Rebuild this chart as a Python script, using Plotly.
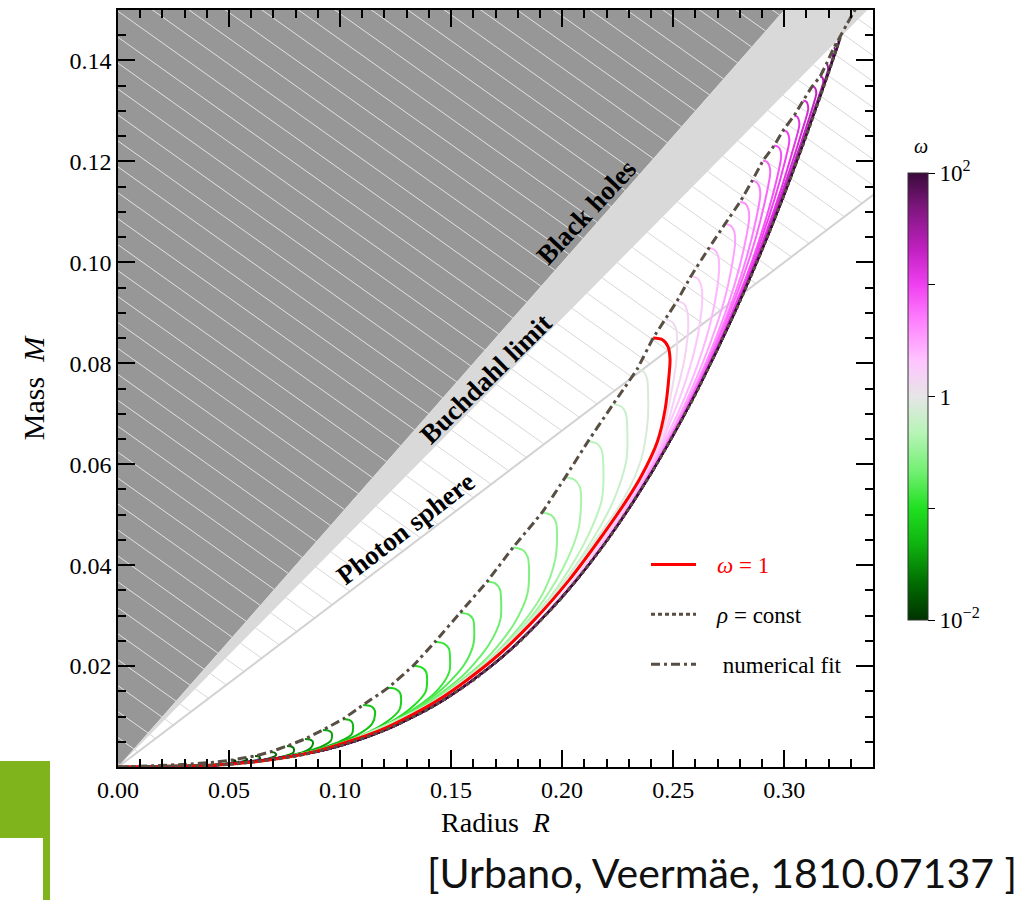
import numpy as np
import plotly.graph_objects as go
import plotly.colors as pc

# ---------------- data ----------------
LOG_OMEGA = [-2.0, -1.9, -1.8, -1.7, -1.6, -1.5, -1.4, -1.3, -1.2, -1.1,
             -1.0, -0.9, -0.8, -0.7, -0.6, -0.5, -0.4, -0.3, -0.2, -0.1,
             0.0, 0.1, 0.2, 0.3, 0.4, 0.5, 0.6, 0.7, 0.8, 0.9,
             1.0, 1.1, 1.2, 1.3, 1.4, 1.5, 1.6, 1.7, 1.8, 1.9, 2.0]

W00_R = [0.0514, 0.0523, 0.0528, 0.0529, 0.0505, 0.0437, 0.0257]
W00_M = [0.00139, 0.00135, 0.00125, 0.00109, 0.00079, 0.00044, 0.00014]
W01_R = [0.0563, 0.0574, 0.0580, 0.0581, 0.0560, 0.0513, 0.0425, 0.0234]
W01_M = [0.00179, 0.00175, 0.00161, 0.00139, 0.00109, 0.00079, 0.00040, 0.00010]
W02_R = [0.0617, 0.0631, 0.0638, 0.0640, 0.0617, 0.0552, 0.0457, 0.0279]
W02_M = [0.00218, 0.00213, 0.00197, 0.00169, 0.00129, 0.00089, 0.00050, 0.00020]
W03_R = [0.0685, 0.0701, 0.0709, 0.0712, 0.0693, 0.0649, 0.0561, 0.0436]
W03_M = [0.00298, 0.00290, 0.00270, 0.00238, 0.00189, 0.00139, 0.00089, 0.00040]
W04_R = [0.0761, 0.0780, 0.0790, 0.0793, 0.0788, 0.0750, 0.0688, 0.0595, 0.0440]
W04_M = [0.00417, 0.00407, 0.00381, 0.00338, 0.00278, 0.00218, 0.00159, 0.00099, 0.00040]
W05_R = [0.0842, 0.0864, 0.0876, 0.0878, 0.0868, 0.0836, 0.0766, 0.0671, 0.0493]
W05_M = [0.00556, 0.00544, 0.00510, 0.00457, 0.00377, 0.00298, 0.00218, 0.00139, 0.00060]
W06_R = [0.0923, 0.0948, 0.0961, 0.0964, 0.0958, 0.0922, 0.0862, 0.0772, 0.0636, 0.0441]
W06_M = [0.00735, 0.00721, 0.00681, 0.00616, 0.00516, 0.00417, 0.00318, 0.00218, 0.00119, 0.00040]
W07_R = [0.1014, 0.1041, 0.1055, 0.1059, 0.1053, 0.1004, 0.0919, 0.0803, 0.0640, 0.0444]
W07_M = [0.00953, 0.00933, 0.00882, 0.00794, 0.00655, 0.00516, 0.00377, 0.00238, 0.00119, 0.00040]
W08_R = [0.1104, 0.1136, 0.1153, 0.1158, 0.1144, 0.1086, 0.0980, 0.0844, 0.0675, 0.0495]
W08_M = [0.01231, 0.01210, 0.01152, 0.01053, 0.00854, 0.00655, 0.00457, 0.00278, 0.00139, 0.00060]
W09_R = [0.1216, 0.1251, 0.1270, 0.1275, 0.1267, 0.1210, 0.1103, 0.0950, 0.0759, 0.0551]
W09_M = [0.01569, 0.01543, 0.01470, 0.01351, 0.01132, 0.00894, 0.00636, 0.00397, 0.00199, 0.00079]
W10_R = [0.1329, 0.1367, 0.1387, 0.1392, 0.1385, 0.1326, 0.1230, 0.1086, 0.0905, 0.0679]
W10_M = [0.02006, 0.01974, 0.01889, 0.01748, 0.01490, 0.01192, 0.00894, 0.00596, 0.00338, 0.00139]
W11_R = [0.1428, 0.1468, 0.1490, 0.1495, 0.1492, 0.1440, 0.1327, 0.1164, 0.0984, 0.0759, 0.0550]
W11_M = [0.02483, 0.02447, 0.02348, 0.02185, 0.01887, 0.01529, 0.01132, 0.00735, 0.00437, 0.00199, 0.00079]
W12_R = [0.1541, 0.1578, 0.1599, 0.1604, 0.1600, 0.1559, 0.1456, 0.1295, 0.1110, 0.0900, 0.0674]
W12_M = [0.03059, 0.03023, 0.02924, 0.02761, 0.02423, 0.02026, 0.01529, 0.01033, 0.00636, 0.00338, 0.00139]
W13_R = [0.1662, 0.1700, 0.1720, 0.1725, 0.1722, 0.1670, 0.1557, 0.1380, 0.1169, 0.0905, 0.0678]
W13_M = [0.03674, 0.03635, 0.03521, 0.03337, 0.02920, 0.02423, 0.01827, 0.01231, 0.00735, 0.00338, 0.00139]
W14_R = [0.1779, 0.1823, 0.1845, 0.1851, 0.1843, 0.1781, 0.1654, 0.1429, 0.1177, 0.0910, 0.0682]
W14_M = [0.04350, 0.04300, 0.04161, 0.03932, 0.03416, 0.02820, 0.02125, 0.01331, 0.00735, 0.00338, 0.00139]
W15_R = [0.1910, 0.1950, 0.1972, 0.1977, 0.1969, 0.1922, 0.1835, 0.1671, 0.1436, 0.1181, 0.0913]
W15_M = [0.05045, 0.04995, 0.04856, 0.04628, 0.04111, 0.03515, 0.02920, 0.02125, 0.01331, 0.00735, 0.00338]
W16_R = [0.2014, 0.2057, 0.2080, 0.2086, 0.2073, 0.2023, 0.1919, 0.1770, 0.1570, 0.1280, 0.0994]
W16_M = [0.05740, 0.05688, 0.05543, 0.05303, 0.04707, 0.04111, 0.03317, 0.02522, 0.01728, 0.00933, 0.00437]
W17_R = [0.2117, 0.2158, 0.2179, 0.2185, 0.2179, 0.2130, 0.2059, 0.1937, 0.1723, 0.1434, 0.1054]
W17_M = [0.06455, 0.06405, 0.06266, 0.06038, 0.05303, 0.04707, 0.04111, 0.03317, 0.02324, 0.01331, 0.00536]
W18_R = [0.2230, 0.2268, 0.2288, 0.2293, 0.2290, 0.2234, 0.2109, 0.1946, 0.1725, 0.1435, 0.1178]
W18_M = [0.07190, 0.07138, 0.06993, 0.06753, 0.06097, 0.05303, 0.04310, 0.03317, 0.02324, 0.01331, 0.00735]
W19_R = [0.2338, 0.2368, 0.2383, 0.2387, 0.2386, 0.2356, 0.2276, 0.2119, 0.1944, 0.1682, 0.1439]
W19_M = [0.07885, 0.07829, 0.07678, 0.07428, 0.06892, 0.06097, 0.05303, 0.04310, 0.03317, 0.02125, 0.01331]

# omega = 1
RED_R = [0.2410, 0.2450, 0.2477, 0.2486, 0.2482, 0.2464, 0.2428, 0.2356, 0.2293, 0.2168,
         0.2033, 0.1876, 0.1688, 0.1444, 0.1185, 0.0914, 0.0766, 0.0608, 0.0448, 0.0]
RED_M = [0.08500, 0.08470, 0.08330, 0.08083, 0.07786, 0.07090, 0.06435, 0.05760, 0.05303, 0.04508,
         0.03714, 0.02920, 0.02125, 0.01331, 0.00735, 0.00338, 0.00199, 0.00099, 0.00040, 0.0]

W21_R = [0.2464, 0.2496, 0.2514, 0.2518, 0.2515, 0.2503, 0.2486, 0.2468, 0.2436, 0.2362,
         0.2298, 0.2181, 0.2051, 0.1898, 0.1710, 0.1464, 0.1204, 0.0928, 0.0454, 0.0]
W21_M = [0.08870, 0.08816, 0.08668, 0.08421, 0.08083, 0.07686, 0.07289, 0.06892, 0.06435, 0.05760,
         0.05303, 0.04508, 0.03714, 0.02920, 0.02125, 0.01331, 0.00735, 0.00338, 0.00040, 0.0]
W22_R = [0.2518, 0.2548, 0.2564, 0.2568, 0.2564, 0.2551, 0.2531, 0.2505, 0.2481, 0.2445, 0.2367,
         0.2304, 0.2186, 0.2055, 0.1901, 0.1712, 0.1465, 0.1203, 0.0929, 0.0455, 0.0]
W22_M = [0.09236, 0.09178, 0.09021, 0.08759, 0.08481, 0.08083, 0.07686, 0.07289, 0.06892, 0.06435, 0.05760,
         0.05303, 0.04508, 0.03714, 0.02920, 0.02125, 0.01331, 0.00735, 0.00338, 0.00040, 0.0]
W23_R = [0.2581, 0.2611, 0.2627, 0.2631, 0.2623, 0.2608, 0.2586, 0.2559, 0.2528, 0.2492, 0.2451,
         0.2372, 0.2308, 0.2192, 0.2059, 0.1903, 0.1713, 0.1466, 0.1204, 0.0929, 0.0455, 0.0]
W23_M = [0.09732, 0.09676, 0.09525, 0.09275, 0.08878, 0.08481, 0.08083, 0.07686, 0.07289, 0.06892, 0.06435,
         0.05760, 0.05303, 0.04508, 0.03714, 0.02920, 0.02125, 0.01331, 0.00735, 0.00338, 0.00040, 0.0]
W24_R = [0.2662, 0.2689, 0.2704, 0.2707, 0.2698, 0.2672, 0.2634, 0.2586, 0.2509, 0.2458, 0.2377,
         0.2315, 0.2197, 0.2062, 0.1905, 0.1715, 0.1467, 0.1204, 0.0930, 0.0455, 0.0]
W24_M = [0.10288, 0.10238, 0.10099, 0.09871, 0.09474, 0.08878, 0.08282, 0.07686, 0.06892, 0.06435, 0.05760,
         0.05303, 0.04508, 0.03714, 0.02920, 0.02125, 0.01331, 0.00735, 0.00338, 0.00040, 0.0]
W25_R = [0.2734, 0.2761, 0.2776, 0.2779, 0.2762, 0.2732, 0.2674, 0.2603, 0.2521, 0.2467, 0.2382,
         0.2323, 0.2200, 0.2064, 0.1905, 0.1715, 0.1467, 0.1204, 0.0930, 0.0455, 0.0]
W25_M = [0.10765, 0.10719, 0.10594, 0.10387, 0.09871, 0.09275, 0.08481, 0.07686, 0.06892, 0.06435, 0.05760,
         0.05303, 0.04508, 0.03714, 0.02920, 0.02125, 0.01331, 0.00735, 0.00338, 0.00040, 0.0]
W26_R = [0.2802, 0.2826, 0.2839, 0.2842, 0.2823, 0.2784, 0.2725, 0.2654, 0.2572, 0.2473, 0.2323]
W26_M = [0.11202, 0.11162, 0.11049, 0.10864, 0.10367, 0.09672, 0.08878, 0.08083, 0.07289, 0.06435, 0.05303]
W27_R = [0.2856, 0.2877, 0.2889, 0.2892, 0.2874, 0.2829, 0.2770, 0.2700, 0.2620, 0.2476, 0.2325]
W27_M = [0.11619, 0.11583, 0.11484, 0.11321, 0.10864, 0.10070, 0.09275, 0.08481, 0.07686, 0.06435, 0.05303]
W28_R = [0.2905, 0.2924, 0.2934, 0.2937, 0.2916, 0.2871, 0.2812, 0.2743, 0.2623, 0.2478, 0.2326]
W28_M = [0.12016, 0.11984, 0.11899, 0.11758, 0.11261, 0.10467, 0.09672, 0.08878, 0.07686, 0.06435, 0.05303]
W29_R = [0.2955, 0.2974, 0.2984, 0.2986, 0.2967, 0.2918, 0.2859, 0.2790, 0.2672, 0.2481, 0.2327]
W29_M = [0.12314, 0.12286, 0.12207, 0.12075, 0.11658, 0.10864, 0.10070, 0.09275, 0.08083, 0.06435, 0.05303]
W30_R = [0.2995, 0.3012, 0.3020, 0.3023, 0.3001, 0.2957, 0.2882, 0.2794, 0.2630, 0.2482, 0.2328]
W30_M = [0.12612, 0.12586, 0.12512, 0.12393, 0.11956, 0.11261, 0.10268, 0.09275, 0.07686, 0.06435, 0.05303]
W31_R = [0.3045, 0.3059, 0.3066, 0.3068, 0.3041, 0.2987, 0.2908, 0.2799, 0.2632, 0.2482, 0.2328]
W31_M = [0.12910, 0.12886, 0.12820, 0.12711, 0.12254, 0.11460, 0.10467, 0.09275, 0.07686, 0.06435, 0.05303]
W32_R = [0.3086, 0.3099, 0.3106, 0.3108, 0.3077, 0.3012, 0.2913, 0.2762, 0.2634, 0.2483, 0.2328]
W32_M = [0.13208, 0.13186, 0.13128, 0.13029, 0.12552, 0.11658, 0.10467, 0.08878, 0.07686, 0.06435, 0.05303]
W33_R = [0.3126, 0.3137, 0.3143, 0.3144, 0.3112, 0.3036, 0.2917, 0.2764, 0.2634, 0.2483, 0.2328]
W33_M = [0.13486, 0.13466, 0.13414, 0.13327, 0.12850, 0.11857, 0.10467, 0.08878, 0.07686, 0.06435, 0.05303]
W34_R = [0.3162, 0.3170, 0.3175, 0.3176, 0.3137, 0.3042, 0.2920, 0.2764, 0.2634, 0.2483, 0.2328]
W34_M = [0.13684, 0.13670, 0.13631, 0.13565, 0.13049, 0.11857, 0.10467, 0.08878, 0.07686, 0.06435, 0.05303]
W35_R = [0.3189, 0.3195, 0.3197, 0.3198, 0.3155, 0.3043, 0.2921, 0.2764, 0.2634, 0.2483, 0.2328]
W35_M = [0.13923, 0.13911, 0.13877, 0.13823, 0.13247, 0.11857, 0.10467, 0.08878, 0.07686, 0.06435, 0.05303]
W36_R = [0.3212, 0.3216, 0.3218, 0.3218, 0.3189, 0.3094, 0.2921, 0.2764, 0.2634, 0.2483, 0.2328]
W36_M = [0.14141, 0.14131, 0.14105, 0.14062, 0.13645, 0.12453, 0.10467, 0.08878, 0.07686, 0.06435, 0.05303]
W37_R = [0.3225, 0.3230, 0.3220, 0.3158, 0.3027, 0.2921, 0.2764, 0.2634, 0.2483, 0.2328]
W37_M = [0.14260, 0.14201, 0.14042, 0.13247, 0.11658, 0.10467, 0.08878, 0.07686, 0.06435, 0.05303]
W38_R = [0.3234, 0.3239, 0.3221, 0.3159, 0.3027, 0.2921, 0.2764, 0.2634, 0.2483, 0.2328]
W38_M = [0.14340, 0.14280, 0.14042, 0.13247, 0.11658, 0.10467, 0.08878, 0.07686, 0.06435, 0.05303]
W39_R = [0.3243, 0.3245, 0.3222, 0.3159, 0.3028, 0.2921, 0.2764, 0.2634, 0.2483, 0.2328]
W39_M = [0.14399, 0.14350, 0.14042, 0.13247, 0.11658, 0.10467, 0.08878, 0.07686, 0.06435, 0.05303]
W40_R = [0.3248, 0.3249, 0.3222, 0.3159, 0.3028, 0.2921, 0.2764, 0.2634, 0.2483, 0.2328]
W40_M = [0.14439, 0.14399, 0.14042, 0.13247, 0.11658, 0.10467, 0.08878, 0.07686, 0.06435, 0.05303]
# common low-mass part shared by the large-omega curves (on top of rho = const)
MAG_TAIL_R = [0.2205, 0.2067, 0.1906, 0.1716, 0.1468, 0.1205, 0.0930, 0.0455, 0.0]
MAG_TAIL_M = [0.04508, 0.03714, 0.02920, 0.02125, 0.01331, 0.00735, 0.00338, 0.00040, 0.0]

# rho = const
RHO_R = [0.0, 0.05, 0.08, 0.10, 0.12, 0.14, 0.16, 0.18, 0.20, 0.22, 0.24, 0.26, 0.28, 0.29, 0.30, 0.31, 0.32, 0.3253]
RHO_M = [0.0, 0.000525, 0.00215, 0.0042, 0.00726, 0.01152, 0.0172, 0.0245, 0.0336, 0.0447, 0.0581,
         0.0738, 0.0922, 0.1024, 0.1134, 0.1251, 0.1376, 0.1446]

# numerical fit (end points of the curves)
FIT_R = [0.0, 0.0293, 0.0444, 0.0514, 0.0563, 0.0617, 0.0685, 0.0761, 0.0842, 0.0923, 0.1014, 0.1104,
         0.1216, 0.1329, 0.1428, 0.1541, 0.1662, 0.1779, 0.1910, 0.2014, 0.2117, 0.2230, 0.2338, 0.2410,
         0.2464, 0.2518, 0.2581, 0.2662, 0.2734, 0.2802, 0.2856, 0.2905, 0.2955, 0.2995, 0.3045, 0.3086,
         0.3126, 0.3162, 0.3189, 0.3212, 0.3225, 0.3234, 0.3243, 0.3248, 0.3280, 0.3325]
FIT_M = [0.0, 0.0005, 0.0010, 0.00139, 0.00179, 0.00218, 0.00298, 0.00417, 0.00556, 0.00735, 0.00953, 0.01231,
         0.01569, 0.02006, 0.02483, 0.03059, 0.03674, 0.04350, 0.05045, 0.05740, 0.06455, 0.07190, 0.07885, 0.08500,
         0.08870, 0.09236, 0.09732, 0.10288, 0.10765, 0.11202, 0.11619, 0.12016, 0.12314, 0.12612, 0.12910, 0.13208,
         0.13486, 0.13684, 0.13923, 0.14141, 0.14260, 0.14340, 0.14399, 0.14439, 0.1470, 0.1505]

# limiting lines  M = slope * R
BH_R, BH_M = [0.0, 0.36], [0.0, 0.18]            # black holes  (R = 2M)
BUCH_R, BUCH_M = [0.0, 0.36], [0.0, 0.16]        # Buchdahl     (M = 4R/9)
PHOT_R, PHOT_M = [0.0, 0.36], [0.0, 0.12]        # photon sphere (R = 3M)

X_TICKS = [0.00, 0.05, 0.10, 0.15, 0.20, 0.25, 0.30]
X_TICK_TEXT = ["0.00", "0.05", "0.10", "0.15", "0.20", "0.25", "0.30"]
Y_TICKS = [0.02, 0.04, 0.06, 0.08, 0.10, 0.12, 0.14]
Y_TICK_TEXT = ["0.02", "0.04", "0.06", "0.08", "0.10", "0.12", "0.14"]
CB_TICKS = [-2, -1, 0, 1, 2]
CB_TICK_TEXT = ["10<sup>\u22122</sup>", " ", "1", " ", "10<sup>2</sup>"]

# ---------------- styling ----------------
SERIF = "Liberation Serif"
CSCALE = [[0.00, "rgb(0,51,0)"], [0.08, "rgb(0,107,0)"], [0.17, "rgb(15,180,15)"],
          [0.25, "rgb(32,224,32)"], [0.33, "rgb(112,240,112)"], [0.42, "rgb(184,244,184)"],
          [0.50, "rgb(230,230,230)"], [0.58, "rgb(255,196,255)"], [0.67, "rgb(255,128,255)"],
          [0.75, "rgb(240,64,240)"], [0.83, "rgb(192,32,192)"], [0.92, "rgb(128,22,128)"],
          [1.00, "rgb(58,10,58)"]]
DARK = "#979797"
BAND = "#d9d9d9"
FITCOL = "#584e43"

# plot-area geometry in page pixels (used to place paper-referenced items)
PX_L, PX_R, PX_T, PX_B = 118, 873, 10, 767
def paper_x(px):
    return (px - PX_L) / (PX_R - PX_L)
def paper_y(py):
    return (PX_B - py) / (PX_B - PX_T)

curves = {
    0: (W00_R, W00_M), 1: (W01_R, W01_M), 2: (W02_R, W02_M), 3: (W03_R, W03_M), 4: (W04_R, W04_M),
    5: (W05_R, W05_M), 6: (W06_R, W06_M), 7: (W07_R, W07_M), 8: (W08_R, W08_M), 9: (W09_R, W09_M),
    10: (W10_R, W10_M), 11: (W11_R, W11_M), 12: (W12_R, W12_M), 13: (W13_R, W13_M), 14: (W14_R, W14_M),
    15: (W15_R, W15_M), 16: (W16_R, W16_M), 17: (W17_R, W17_M), 18: (W18_R, W18_M), 19: (W19_R, W19_M),
    21: (W21_R, W21_M), 22: (W22_R, W22_M), 23: (W23_R, W23_M), 24: (W24_R, W24_M), 25: (W25_R, W25_M),
    26: (W26_R + MAG_TAIL_R, W26_M + MAG_TAIL_M), 27: (W27_R + MAG_TAIL_R, W27_M + MAG_TAIL_M),
    28: (W28_R + MAG_TAIL_R, W28_M + MAG_TAIL_M), 29: (W29_R + MAG_TAIL_R, W29_M + MAG_TAIL_M),
    30: (W30_R + MAG_TAIL_R, W30_M + MAG_TAIL_M), 31: (W31_R + MAG_TAIL_R, W31_M + MAG_TAIL_M),
    32: (W32_R + MAG_TAIL_R, W32_M + MAG_TAIL_M), 33: (W33_R + MAG_TAIL_R, W33_M + MAG_TAIL_M),
    34: (W34_R + MAG_TAIL_R, W34_M + MAG_TAIL_M), 35: (W35_R + MAG_TAIL_R, W35_M + MAG_TAIL_M),
    36: (W36_R + MAG_TAIL_R, W36_M + MAG_TAIL_M), 37: (W37_R + MAG_TAIL_R, W37_M + MAG_TAIL_M),
    38: (W38_R + MAG_TAIL_R, W38_M + MAG_TAIL_M), 39: (W39_R + MAG_TAIL_R, W39_M + MAG_TAIL_M),
    40: (W40_R + MAG_TAIL_R, W40_M + MAG_TAIL_M),
}

fig = go.Figure()

# shaded regions
fig.add_trace(go.Scatter(x=[BH_R[0], BH_R[1], 0.0], y=[BH_M[0], BH_M[1], BH_M[1]], fill="toself",
                         fillcolor=DARK, line=dict(width=0), mode="lines", hoverinfo="skip", showlegend=False))
fig.add_trace(go.Scatter(x=[BH_R[0], BH_R[1], BUCH_R[1]], y=[BH_M[0], BH_M[1], BUCH_M[1]], fill="toself",
                         fillcolor=BAND, line=dict(width=0), mode="lines", hoverinfo="skip", showlegend=False))

# hatching (decoration, "\\" style)
HATCH_SLOPE = 0.313
HATCH_STEP = 0.00514
HATCH_C0 = 0.1446
s_bh = BH_M[1] / BH_R[1]
s_bu = BUCH_M[1] / BUCH_R[1]
s_ph = PHOT_M[1] / PHOT_R[1]
hx_d, hy_d, hx_w, hy_w = [], [], [], []
for n in range(-40, 40):
    c = HATCH_C0 + HATCH_STEP * n
    if c <= 0:
        continue
    r_end = c / (s_bh + HATCH_SLOPE)
    hx_d += [0.0, r_end, None]
    hy_d += [c, c - HATCH_SLOPE * r_end, None]
    r1 = c / (s_bu + HATCH_SLOPE)
    r2 = c / (s_ph + HATCH_SLOPE)
    hx_w += [r1, r2, None]
    hy_w += [c - HATCH_SLOPE * r1, c - HATCH_SLOPE * r2, None]
fig.add_trace(go.Scatter(x=hx_d, y=hy_d, mode="lines", line=dict(color="#e2e2e2", width=1),
                         hoverinfo="skip", showlegend=False))
fig.add_trace(go.Scatter(x=hx_w, y=hy_w, mode="lines", line=dict(color="#d8d8d8", width=1),
                         hoverinfo="skip", showlegend=False))
fig.add_trace(go.Scatter(x=PHOT_R, y=PHOT_M, mode="lines", line=dict(color="#d2d2d2", width=2),
                         hoverinfo="skip", showlegend=False))

# omega curves
for k in sorted(curves):
    r, m = curves[k]
    t = (LOG_OMEGA[k] + 2.0) / 4.0
    col = pc.sample_colorscale(CSCALE, [t])[0]
    fig.add_trace(go.Scatter(x=r, y=m, mode="lines", line=dict(color=col, width=2, shape="spline", smoothing=0.8),
                             hoverinfo="skip", showlegend=False))

# omega = 1
fig.add_trace(go.Scatter(x=RED_R, y=RED_M, mode="lines",
                         name='\u2002\u2009<span style="color:#ff0000"><i>ω</i> = 1</span>',
                         legendgroup="a", line=dict(color="#ff0000", width=3, shape="spline", smoothing=0.8)))
# rho = const
fig.add_trace(go.Scatter(x=RHO_R, y=RHO_M, mode="lines", name="\u2002\u2009<i>ρ</i> = const", legendgroup="b",
                         line=dict(color=FITCOL, width=3, dash="4px,3px", shape="spline", smoothing=0.6)))
# numerical fit
fig.add_trace(go.Scatter(x=FIT_R, y=FIT_M, mode="lines", name="\u2002\u2009 numerical fit", legendgroup="c",
                         line=dict(color=FITCOL, width=3, dash="9px,4px,3px,4px", shape="spline", smoothing=0.3)))

# colorbar
cbar = dict(x=paper_x(908), xanchor="left", xpad=0, ypad=0, thickness=20,
            lenmode="pixels", len=447, y=paper_y(396.5),
            yanchor="middle", outlinewidth=1, outlinecolor="#333",
            tickvals=CB_TICKS, ticktext=CB_TICK_TEXT, ticks="outside",
            ticklen=7, tickcolor="#000",
            tickfont=dict(family=SERIF, size=23, color="#000"))
fig.add_trace(go.Scatter(x=[None], y=[None], mode="markers", showlegend=False, hoverinfo="skip",
                         marker=dict(color=[0], cmin=-2, cmax=2, colorscale=CSCALE, showscale=True,
                                     colorbar=cbar)))
fig.add_annotation(xref="paper", yref="paper", x=paper_x(921), y=paper_y(146), text="<i>ω</i>",
                   showarrow=False, font=dict(family=SERIF, size=20, color="#000"),
                   xanchor="center", yanchor="middle")

# region labels
lab_font = dict(family=SERIF, size=27, color="#000")
fig.add_annotation(x=0.2111, y=0.1099, text="<b>Black holes</b>", showarrow=False, textangle=-47, font=lab_font)
fig.add_annotation(x=0.1656, y=0.0769, text="<b>Buchdahl limit</b>", showarrow=False, textangle=-44.5, font=lab_font)
fig.add_annotation(x=0.1293, y=0.0472, text="<b>Photon sphere</b>", showarrow=False, textangle=-37.5, font=lab_font)

# citation and slide decoration
fig.add_annotation(xref="paper", yref="paper", x=paper_x(722), y=paper_y(872),
                   text="[Urbano, Veermäe, 1810.07137 ]", showarrow=False,
                   font=dict(family="Lato", size=41, color="#111"), xanchor="center", yanchor="middle")
GREEN = "#7fb41d"
fig.add_shape(type="rect", xref="paper", yref="paper", x0=paper_x(0), x1=paper_x(50),
              y0=paper_y(838), y1=paper_y(761), fillcolor=GREEN, line=dict(width=0))
fig.add_shape(type="rect", xref="paper", yref="paper", x0=paper_x(43), x1=paper_x(50),
              y0=paper_y(905), y1=paper_y(838), fillcolor=GREEN, line=dict(width=0))

axis_common = dict(showgrid=False, zeroline=False, showline=True, linecolor="#000", linewidth=1.6,
                   mirror="ticks", ticks="inside", ticklen=17, tickwidth=1.8, tickcolor="#000",
                   tickfont=dict(family=SERIF, size=24, color="#000"))
fig.update_xaxes(range=[0, 0.34], tickvals=X_TICKS, ticktext=X_TICK_TEXT,
                 minor=dict(tickvals=[round(0.01 * i, 2) for i in range(35)], ticks="inside", ticklen=8,
                            tickwidth=1.5, tickcolor="#000"),
                 title=dict(text="Radius  <i>R</i>", font=dict(family=SERIF, size=28, color="#000"), standoff=11),
                 **axis_common)
fig.update_yaxes(range=[0, 0.15], tickvals=Y_TICKS, ticktext=Y_TICK_TEXT,
                 minor=dict(tickvals=[round(0.005 * i, 3) for i in range(31)], ticks="inside", ticklen=8,
                            tickwidth=1.5, tickcolor="#000"),
                 title=dict(text="Mass  <i>M</i>", font=dict(family=SERIF, size=30, color="#000"), standoff=16),
                 **axis_common)

fig.update_layout(
    width=1030, height=900,
    margin=dict(l=PX_L, r=1030 - PX_R, t=PX_T, b=900 - PX_B, autoexpand=False),
    paper_bgcolor="white", plot_bgcolor="white",
    showlegend=True,
    legend=dict(x=paper_x(646), y=paper_y(543), xanchor="left", yanchor="top",
                bgcolor="rgba(0,0,0,0)", borderwidth=0, tracegroupgap=17, itemwidth=45,
                font=dict(family=SERIF, size=23, color="#000")),
)

fig.write_html("out.html", config={"displayModeBar": False},
               post_script="document.body.style.margin='0px';")
